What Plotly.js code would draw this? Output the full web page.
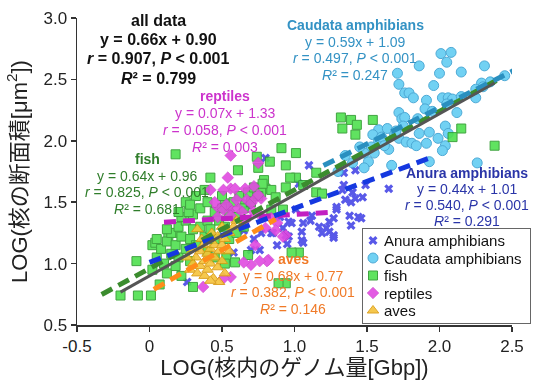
<!DOCTYPE html>
<html><head><meta charset="utf-8">
<script src="https://cdn.plot.ly/plotly-3.0.1.min.js"></script>
<style>html,body{margin:0;padding:0;background:#fff;} #chart{width:538px;height:380px;}</style>
</head><body><div id="chart"></div>
<script>
// ---------- data ----------
const anuraX = [0.80,1.10,1.03,1.34,1.42,1.34,1.35,1.39,1.29,1.27,1.38,1.44,1.39,1.17,1.22,1.19,1.27,1.06,1.05,0.98,0.92,1.12,1.01,0.85,0.94,1.49,1.65,1.46,1.27,1.05,0.96,1.11,1.33,1.40,1.42,1.47,1.29,1.24,0.77,0.96,1.06,0.76,1.24,0.26,0.70,0.58,0.84,0.68,0.65,0.72,0.88,0.90,0.95];
const anuraY = [1.86,1.80,1.65,1.74,1.76,1.64,1.52,1.50,1.44,1.37,1.39,1.38,1.31,1.30,1.29,1.25,1.23,1.33,1.26,1.33,1.29,1.39,1.44,1.25,1.23,1.64,1.61,1.37,1.21,1.19,1.34,1.35,1.60,1.58,1.53,1.54,1.46,1.34,1.25,1.22,1.17,1.11,1.26,0.85,1.11,1.09,1.25,1.48,1.27,1.20,1.15,1.38,1.16];

const caudataX = [2.01,2.08,2.05,1.86,1.71,2.00,2.15,2.31,1.72,1.96,1.76,1.79,1.82,1.91,2.02,2.06,2.09,2.29,2.30,2.25,1.72,1.74,1.76,1.90,2.12,2.04,1.99,2.06,1.58,1.54,1.64,1.69,1.72,1.77,1.86,1.93,1.91,1.81,2.04,2.02,1.51,1.58,1.53,1.48,1.67,1.93,2.26,1.84,1.48,1.35,1.45,1.60,1.75,1.85,1.95,2.05,2.15,2.25,2.35,2.45,1.30,1.40,1.55,1.65,1.70,1.62];
const caudataY = [2.71,2.72,2.64,2.61,2.55,2.55,2.56,2.61,2.46,2.45,2.39,2.39,2.35,2.33,2.35,2.35,2.34,2.47,2.44,2.35,2.23,2.18,2.19,2.26,2.23,2.12,2.02,2.06,2.09,2.05,2.10,2.05,2.02,1.99,2.06,2.07,1.98,1.98,1.96,1.92,1.83,2.00,1.95,1.90,1.80,1.83,1.82,1.96,1.78,1.88,1.95,2.03,2.12,2.18,2.24,2.30,2.36,2.42,2.48,2.53,1.75,1.82,1.90,1.93,2.08,1.96];

const fishX = [0.18,0.42,0.61,0.74,0.79,0.83,0.75,0.91,1.01,0.94,1.01,0.97,1.15,0.94,0.80,0.77,0.84,0.87,1.06,1.15,1.19,0.52,0.54,0.66,0.92,0.84,1.32,1.39,1.43,1.42,1.54,1.33,2.15,2.09,2.38,0.02,1.03,0.94,0.53,0.59,0.68,0.52,0.04,-0.09,-0.20,-0.08,0.01,0.07,0.13,0.19,0.30,0.89,0.98,
  0.05,0.08,0.10,0.12,0.15,0.15,0.18,0.20,0.20,0.22,0.25,0.25,0.28,0.28,0.30,0.30,0.32,0.35,0.35,0.38,0.40,0.40,0.42,0.45,0.45,0.48,0.50,0.50,0.52,0.55,0.58,0.60,0.62,0.65,0.68,0.70,0.72,0.75,0.78,0.12,0.05,0.02,0.12,0.18,0.22,0.22,0.27,0.25,0.20,0.32,0.28,0.38,0.55,0.60,0.65,0.40,0.45];
const fishY = [1.89,1.70,1.76,1.87,1.68,1.83,1.78,1.94,1.90,1.80,1.70,1.70,1.74,1.62,1.61,1.58,1.60,1.54,1.64,1.58,1.57,1.49,1.46,1.48,1.44,1.44,2.19,2.17,2.13,2.05,2.17,2.10,2.10,2.03,1.96,1.15,1.09,0.84,1.05,1.01,1.07,1.00,1.17,1.02,0.74,0.74,0.74,0.83,1.23,1.25,0.81,0.84,1.09,
  1.05,1.12,1.00,1.18,1.08,1.25,1.15,1.30,1.05,1.22,1.12,1.35,1.20,1.02,1.28,1.40,1.15,1.30,1.45,1.22,1.35,1.50,1.28,1.42,1.20,1.35,1.45,1.55,1.30,1.40,1.50,1.38,1.55,1.45,1.58,1.50,1.62,1.55,1.65,1.28,1.20,0.95,0.92,0.98,0.90,1.38,1.42,1.50,1.42,1.55,1.48,1.60,1.20,1.25,1.30,1.10,1.05];

const reptX = [0.56,0.42,0.56,0.59,0.66,0.75,0.67,0.47,0.56,0.70,0.75,0.54,0.51,0.73,0.77,0.61,0.51,0.47,0.56,0.66,0.72,0.84,0.80,0.88,0.72,0.75,0.82,0.56,0.37,0.70,0.73,0.81,0.51,0.87,0.94,0.65,0.76,0.92,0.45,0.53,0.60,0.64];
const reptY = [1.88,1.60,1.61,1.61,1.61,1.82,1.52,1.46,1.44,1.49,1.41,1.70,1.60,1.53,1.53,1.45,1.44,1.38,1.39,1.35,1.42,1.37,1.29,1.33,1.63,1.56,1.03,0.89,0.81,0.99,1.15,1.02,0.88,1.27,1.23,1.01,1.02,1.22,1.50,1.48,1.52,1.42];

const avesX = [0.28,0.30,0.32,0.33,0.35,0.35,0.37,0.38,0.38,0.40,0.40,0.40,0.42,0.42,0.43,0.44,0.45,0.45,0.47,0.47,0.48,0.50,0.50,0.50,0.52,0.52,0.55,0.55,0.36,0.30,0.26,0.58,0.60,0.33,0.48,0.42];
const avesY = [0.95,1.00,1.05,0.92,1.10,0.98,1.15,1.02,0.90,1.20,1.08,0.95,1.12,1.00,1.25,0.88,1.15,1.05,0.97,1.22,1.10,1.02,1.30,1.15,0.92,1.20,1.10,1.25,1.20,1.12,1.05,1.30,1.35,1.28,0.85,0.86];

// regression results printed on the chart
const fitNames     = ['all data','Caudata amphibians','reptiles','fish','Anura amphibians','aves'];
const fitSlope     = [0.66, 0.59, 0.07, 0.64, 0.44, 0.68];
const fitIntercept = [0.90, 1.09, 1.33, 0.96, 1.01, 0.77];
const fitR         = ['0.907','0.497','0.058','0.825','0.540','0.382'];
const fitR2        = ['0.799','0.247','0.003','0.681','0.291','0.146'];
const fitXStart    = [-0.20, 1.20, 0.10, -0.33, 0.00, 0.03];
const fitXEnd      = [2.38, 2.52, 1.25, 2.40, 1.93, 0.87];

const xTickVals = [-0.5, 0, 0.5, 1.0, 1.5, 2.0, 2.5];
const xTickText = ['-0.5','0','0.5','1.0','1.5','2.0','2.5'];
const yTickVals = [0.5, 1.0, 1.5, 2.0, 2.5, 3.0];
const yTickText = ['0.5','1.0','1.5','2.0','2.5','3.0'];

// ---------- styles ----------
const FONT = "Arial, 'Liberation Sans', 'Noto Sans CJK JP', sans-serif";
const W = 538, H = 380, ML = 77, MR = 26, MT = 18, MB = 55;
const PW = W - ML - MR, PH = H - MT - MB;

const fitStyle = [
  {color:'#555555', dash:'solid', width:3},
  {color:'#2a8fbf', dash:'12px,7px', width:5},
  {color:'#c21fc2', dash:'12px,7px', width:5},
  {color:'#3b8c2e', dash:'12px,7px', width:5},
  {color:'#1538e0', dash:'12px,7px', width:5},
  {color:'#ff8c1a', dash:'12px,7px', width:5}
];
const blockStyle = [
  {cx:158, y0:20, dy:19.5, size:16, color:'#111111', allBold:true},
  {cx:355, y0:25, dy:16.5, size:14, color:'#3392c4'},
  {cx:225, y0:96, dy:17,   size:14, color:'#cc33cc'},
  {cx:147, y0:159, dy:16.5, size:14, color:'#2f7d2a'},
  {cx:467, y0:173, dy:16,  size:14, color:'#2a35a8'},
  {cx:293, y0:259, dy:16.5, size:14, color:'#f07a28'}
];
const drawOrder = [3,1,2,5,4,0];
// legend box geometry (pixels)
const LEG = {left:362, top:228, w:168, h:95, dx:-9, textX:31, first:12.5, step:17.5};

const traces = [
  {name:'Anura amphibians', x:anuraX, y:anuraY, type:'scatter', mode:'markers',
   marker:{symbol:'x', size:8, color:'#4747e6', line:{width:0}}, opacity:0.9},
  {name:'Caudata amphibians', x:caudataX, y:caudataY, type:'scatter', mode:'markers',
   marker:{symbol:'circle', size:10, color:'#62cdf2', line:{width:1, color:'#3a9fd0'}}, opacity:0.9},
  {name:'fish', x:fishX, y:fishY, type:'scatter', mode:'markers',
   marker:{symbol:'square', size:9, color:'#4ee04e', line:{width:1, color:'#2c9a2c'}}, opacity:0.9},
  {name:'reptiles', x:reptX, y:reptY, type:'scatter', mode:'markers',
   marker:{symbol:'diamond', size:9, color:'#e04ae0', line:{width:0.5, color:'#c030c0'}}, opacity:0.9},
  {name:'aves', x:avesX, y:avesY, type:'scatter', mode:'markers',
   marker:{symbol:'triangle-up', size:10, color:'#f5c23a', line:{width:1, color:'#d99a10'}}, opacity:0.9}
];
drawOrder.forEach(i => {
  const xs = [fitXStart[i], fitXEnd[i]];
  traces.push({x:xs, y:xs.map(v => fitSlope[i]*v + fitIntercept[i]), type:'scatter', mode:'lines',
    line:fitStyle[i], showlegend:false, hoverinfo:'skip'});
});

const px2x = px => (px - ML) / PW;
const py2y = py => (H - MB - py) / PH;
const annotations = [];
fitNames.forEach((nm, i) => {
  const st = blockStyle[i];
  const eq = 'y = ' + fitSlope[i].toFixed(2) + 'x + ' + fitIntercept[i].toFixed(2);
  const lines = ['<b>' + nm + '</b>', eq, '<i>r</i> = ' + fitR[i] + ', <i>P</i> &lt; 0.001', '<i>R</i>² = ' + fitR2[i]];
  lines.forEach((t, k) => {
    annotations.push({xref:'paper', yref:'paper', x:px2x(st.cx), y:py2y(st.y0 + k*st.dy),
      xanchor:'center', yanchor:'middle', showarrow:false,
      text: st.allBold && k > 0 ? '<b>' + t + '</b>' : t,
      font:{family:FONT, size:st.size, color:st.color}});
  });
});

const axisCommon = {showgrid:false, zeroline:false, showline:true, linecolor:'#333', linewidth:1.5,
  ticks:'outside', ticklen:5, tickwidth:1.5, tickcolor:'#333',
  tickfont:{family:FONT, size:17, color:'#222'}};

const layout = {
  width:W, height:H, margin:{l:ML, r:MR, t:MT, b:MB, autoexpand:false},
  paper_bgcolor:'#fff', plot_bgcolor:'#fff', font:{family:FONT},
  xaxis:Object.assign({}, axisCommon, {range:[-0.5, 2.5], tickvals:xTickVals, ticktext:xTickText,
    title:{text:'LOG(核内のゲノム量[Gbp])', font:{family:FONT, size:22, color:'#222'}, standoff:6}}),
  yaxis:Object.assign({}, axisCommon, {range:[0.5, 3.0], tickvals:yTickVals, ticktext:yTickText,
    title:{text:'LOG(核の断面積[μm<sup>2</sup>])', font:{family:FONT, size:22, color:'#222'}, standoff:10}}),
  legend:{x:px2x(LEG.left), y:py2y(LEG.top), xanchor:'left', yanchor:'top', bgcolor:'#fff',
    bordercolor:'#666', borderwidth:1, font:{family:FONT, size:15, color:'#111'}},
  annotations:annotations,
  showlegend:true
};
Plotly.newPlot('chart', traces, layout, {staticPlot:true, displayModeBar:false}).then(gd => {
  // tighten the legend to the compact spacing of the reference
  const leg = gd.querySelector('g.legend');
  if (!leg) return;
  leg.querySelectorAll('g.traces').forEach((el, i) => {
    el.setAttribute('transform', 'translate(' + LEG.dx + ',' + (LEG.first + i * LEG.step) + ')');
    const t = el.querySelector('text.legendtext');
    if (t) t.setAttribute('x', LEG.textX);
  });
  const bg = leg.querySelector('rect.bg');
  if (bg) { bg.setAttribute('width', LEG.w); bg.setAttribute('height', LEG.h); }
});
</script></body></html>
